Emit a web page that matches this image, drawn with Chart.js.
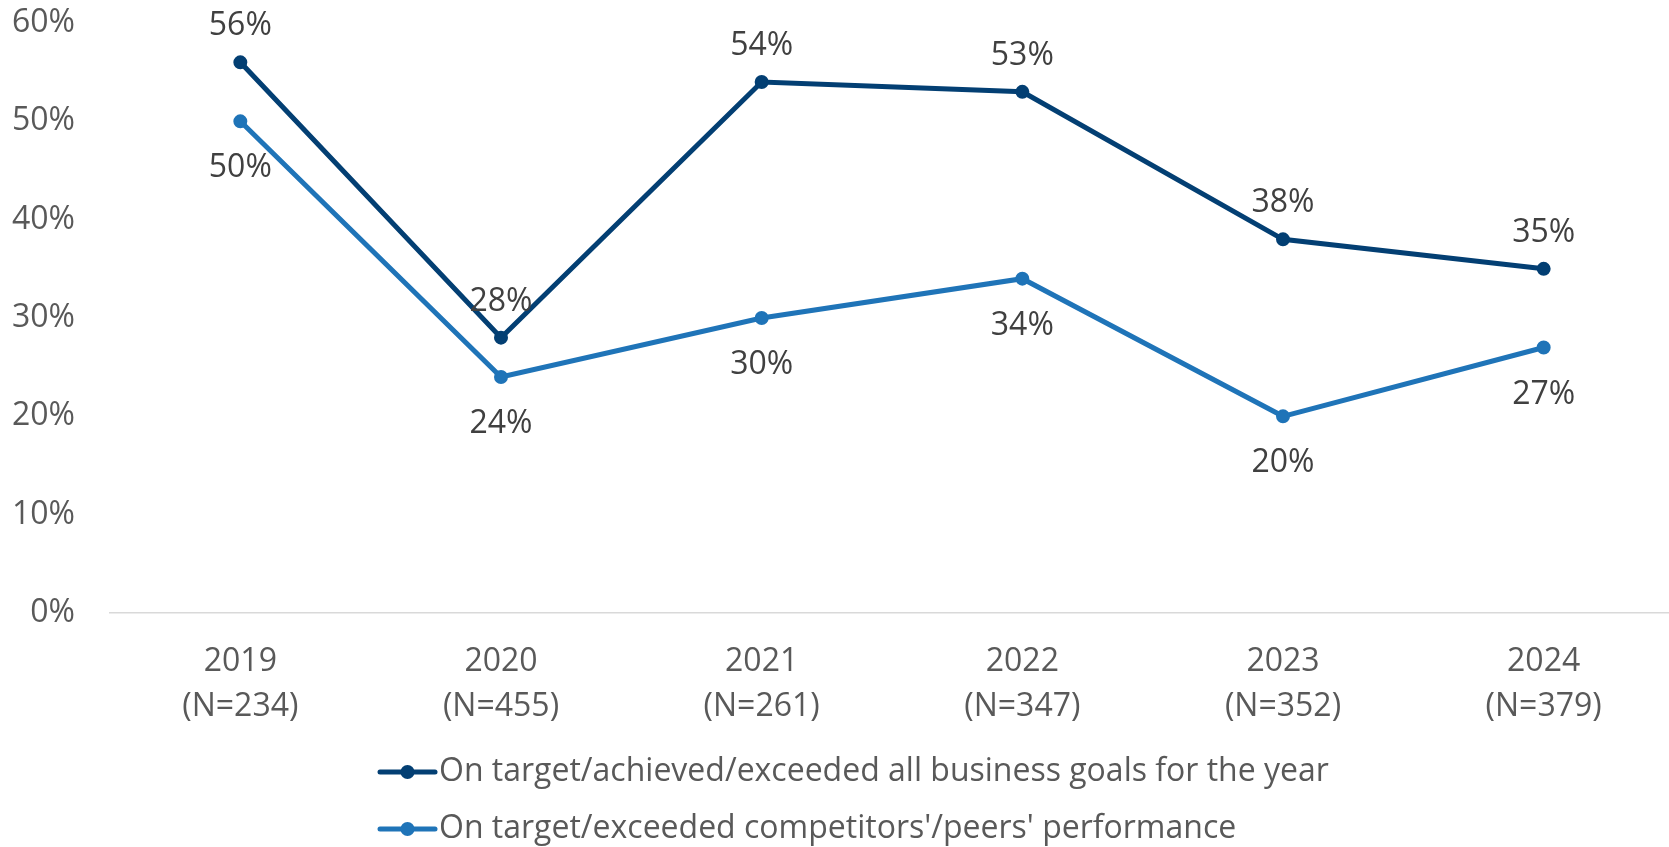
<!DOCTYPE html>
<html>
<head>
<meta charset="utf-8">
<script src="https://cdn.jsdelivr.net/npm/chart.js@4.4.1/dist/chart.umd.min.js"></script>
<style>
  html, body { margin: 0; padding: 0; background: #ffffff; overflow: hidden; }
  /* plot runs slightly past the right edge, so the last category's band is cut */
  #wrap { width: 1682px; height: 847px; position: relative; }
</style>
</head>
<body>
<div id="wrap"><canvas id="chart"></canvas></div>
<script>
// Survey years with sample sizes (two-line tick labels)
const categories = [
  ['2019', '(N=234)'],
  ['2020', '(N=455)'],
  ['2021', '(N=261)'],
  ['2022', '(N=347)'],
  ['2023', '(N=352)'],
  ['2024', '(N=379)']
];

// Share of respondents, in percent
const goalsAchieved = [56, 28, 54, 53, 38, 35];
const beatPeers = [50, 24, 30, 34, 20, 27];

const seriesNames = [
  'On target/achieved/exceeded all business goals for the year',
  "On target/exceeded competitors'/peers' performance"
];

const yTicks = [0, 10, 20, 30, 40, 50, 60];

const NAVY = '#033f73';
const BLUE = '#1f74b8';
const FONT = "'Open Sans', 'DejaVu Sans', sans-serif";
const SIZE = 32;

// Value labels: first series above its points, second below
const valueLabels = {
  id: 'valueLabels',
  afterDatasetsDraw(chart) {
    const ctx = chart.ctx;
    ctx.save();
    ctx.font = SIZE + 'px ' + FONT;
    ctx.fillStyle = '#404040';
    ctx.textAlign = 'center';
    ctx.textBaseline = 'middle';
    chart.data.datasets.forEach((ds, i) => {
      const meta = chart.getDatasetMeta(i);
      meta.data.forEach((pt, j) => {
        const dy = i === 0 ? -36 : 47;
        ctx.fillText(ds.data[j] + '%', pt.x, pt.y + dy);
      });
    });
    ctx.restore();
  }
};

// Legend drawn as two left-aligned rows under the axis
const stackedLegend = {
  id: 'stackedLegend',
  afterDraw(chart) {
    const ctx = chart.ctx;
    const x0 = 380, lineLen = 55;
    const rows = [772, 829];
    ctx.save();
    chart.data.datasets.forEach((ds, i) => {
      const y = rows[i];
      ctx.strokeStyle = ds.borderColor;
      ctx.lineWidth = 5;
      ctx.lineCap = 'round';
      ctx.beginPath();
      ctx.moveTo(x0, y);
      ctx.lineTo(x0 + lineLen, y);
      ctx.stroke();
      ctx.fillStyle = ds.borderColor;
      ctx.beginPath();
      ctx.arc(x0 + lineLen / 2, y, 7, 0, Math.PI * 2);
      ctx.fill();
      ctx.font = SIZE + 'px ' + FONT;
      ctx.fillStyle = '#595959';
      ctx.textAlign = 'left';
      ctx.textBaseline = 'middle';
      ctx.fillText(ds.label, x0 + lineLen + 4, y);
    });
    ctx.restore();
  }
};

new Chart(document.getElementById('chart'), {
  type: 'line',
  data: {
    labels: categories,
    datasets: [
      {
        label: seriesNames[0],
        data: goalsAchieved,
        borderColor: NAVY,
        backgroundColor: NAVY,
        borderWidth: 5,
        pointRadius: 6,
        pointBorderWidth: 2,
        pointBackgroundColor: NAVY,
        pointBorderColor: NAVY,
        tension: 0
      },
      {
        label: seriesNames[1],
        data: beatPeers,
        borderColor: BLUE,
        backgroundColor: BLUE,
        borderWidth: 5,
        pointRadius: 6,
        pointBorderWidth: 2,
        pointBackgroundColor: BLUE,
        pointBorderColor: BLUE,
        tension: 0
      }
    ]
  },
  options: {
    responsive: true,
    maintainAspectRatio: false,
    animation: false,
    layout: { padding: { top: 23, right: 0, bottom: 109, left: 0 } },
    plugins: {
      legend: { display: false },
      tooltip: { enabled: false }
    },
    scales: {
      x: {
        offset: true,
        grid: { display: false, drawTicks: false },
        border: { display: true, color: '#d9d9d9', width: 1.5 },
        ticks: {
          color: '#595959',
          font: { family: FONT, size: SIZE, lineHeight: 1.42 },
          padding: 26,
          maxRotation: 0
        },
        afterFit(scale) {
          scale.height = 125;
          scale.paddingLeft = 0;
          scale.paddingRight = 0;
        }
      },
      y: {
        min: yTicks[0],
        max: yTicks[yTicks.length - 1],
        afterBuildTicks(scale) { scale.ticks = yTicks.map(v => ({ value: v })); },
        grid: { display: false, drawTicks: false },
        border: { display: false },
        ticks: {
          color: '#595959',
          font: { family: FONT, size: SIZE },
          padding: 35,
          callback: v => v + '%'
        },
        afterFit(scale) {
          scale.width = 110;
          scale.paddingTop = 0;
          scale.paddingBottom = 0;
        }
      }
    }
  },
  plugins: [valueLabels, stackedLegend]
});
</script>
</body>
</html>
